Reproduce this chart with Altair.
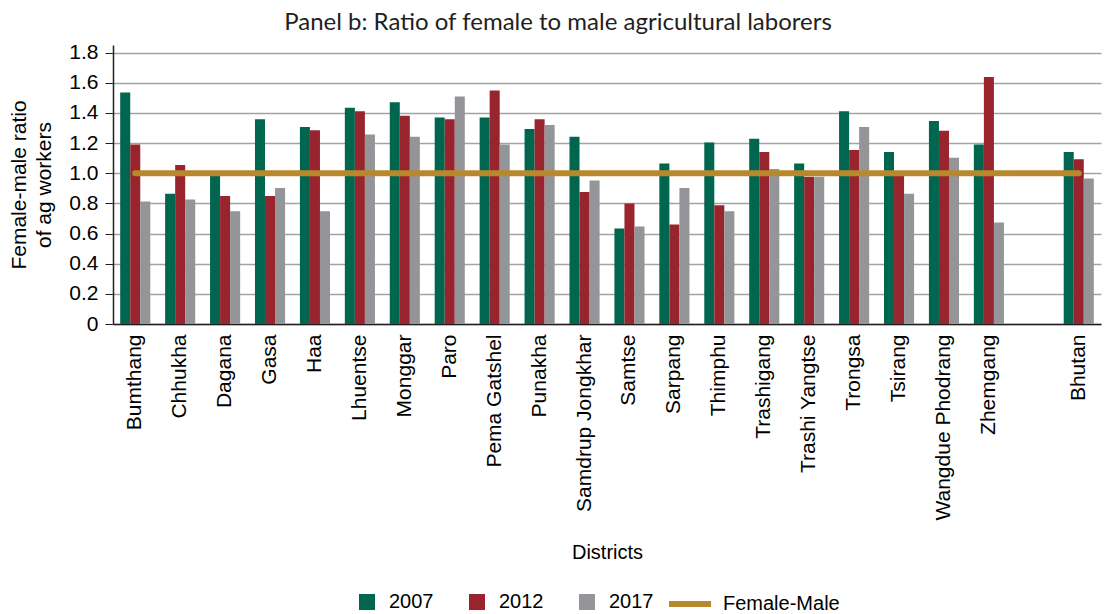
import altair as alt
import pandas as pd

districts = ["Bumthang", "Chhukha", "Dagana", "Gasa", "Haa", "Lhuentse", "Monggar", "Paro",
             "Pema Gatshel", "Punakha", "Samdrup Jongkhar", "Samtse", "Sarpang", "Thimphu",
             "Trashigang", "Trashi Yangtse", "Trongsa", "Tsirang", "Wangdue Phodrang",
             "Zhemgang", "Bhutan"]
gap_label = " "
axis_order = districts[:-1] + [gap_label] + ["Bhutan"]
years = ["2007", "2012", "2017"]
v2007 = [1.535, 0.863, 1.0, 1.357, 1.306, 1.434, 1.471, 1.37, 1.37, 1.293, 1.242, 0.633,
         1.065, 1.204, 1.229, 1.065, 1.41, 1.141, 1.346, 1.191, 1.141]
v2012 = [1.191, 1.054, 0.849, 0.849, 1.284, 1.41, 1.381, 1.357, 1.549, 1.357, 0.876, 0.799,
         0.66, 0.788, 1.141, 0.977, 1.154, 0.99, 1.282, 1.637, 1.092]
v2017 = [0.812, 0.825, 0.748, 0.902, 0.748, 1.257, 1.242, 1.509, 1.191, 1.319, 0.951, 0.646,
         0.902, 0.748, 1.028, 0.977, 1.306, 0.863, 1.103, 0.673, 0.964]
parity_label = "Female-Male"
parity_value = 1.0
y_ticks = [0, 0.2, 0.4, 0.6, 0.8, 1.0, 1.2, 1.4, 1.6, 1.8]

bar_colors = ["#00664F", "#98252E", "#939598"]
line_color = "#B8892C"

rows = []
for yr, vals in zip(years, [v2007, v2012, v2017]):
    for d, v in zip(districts, vals):
        rows.append({"District": d, "Year": yr, "Ratio": v})
df = pd.DataFrame(rows)
line_df = pd.DataFrame({"District": districts, "Ratio": [parity_value] * len(districts),
                        "Series": [parity_label] * len(districts)})

FONT = "Liberation Sans"

x_enc = alt.X("District:N",
              scale=alt.Scale(domain=axis_order, paddingInner=0.33, paddingOuter=0.16),
              axis=alt.Axis(title="Districts", labelAngle=-90, labelFontSize=21, labelPadding=10,
                            ticks=False, grid=False, domainColor="#231F20", domainWidth=1.5,
                            titleFontSize=20, titleFontWeight="normal", titleY=234,
                            titleBaseline="alphabetic", labelColor="#000000",
                            titleColor="#000000", labelOverlap=False, labelLimit=400))
y_enc = alt.Y("Ratio:Q",
              scale=alt.Scale(domain=[0, 1.85], nice=False, zero=True),
              axis=alt.Axis(values=y_ticks, title=["Female-male ratio", "of ag workers"],
                            labelExpr="datum.value == 0 ? '0' : format(datum.value, '.1f')",
                            labelFontSize=21, tickSize=8, labelPadding=7, tickColor="#231F20",
                            domainColor="#231F20", domainWidth=1.5, grid=True,
                            gridColor="#A3A3A3", gridWidth=1.5, titleFontSize=21,
                            titleFontWeight="normal", titlePadding=14, titleLineHeight=25,
                            labelColor="#000000", titleColor="#000000", labelOverlap=False))

bars = alt.Chart(df).mark_bar().encode(
    x=x_enc,
    xOffset=alt.XOffset("Year:N", scale=alt.Scale(domain=years, paddingInner=0, paddingOuter=0)),
    y=y_enc,
    color=alt.Color("Year:N", scale=alt.Scale(domain=years, range=bar_colors),
                    legend=alt.Legend(title=None, orient="none", legendX=244, legendY=547,
                                      direction="horizontal", symbolType="square",
                                      symbolSize=256, symbolStrokeWidth=0, labelFontSize=20,
                                      labelOffset=12, columnPadding=33, padding=0,
                                      labelColor="#000000")),
)

line = alt.Chart(line_df).mark_line(strokeWidth=6, strokeCap="round").encode(
    x=x_enc,
    y=y_enc,
    color=alt.Color("Series:N", scale=alt.Scale(domain=[parity_label], range=[line_color]),
                    legend=alt.Legend(title=None, orient="none", legendX=553, legendY=535,
                                      symbolType="stroke", symbolSize=1764,
                                      symbolStrokeWidth=6, labelFontSize=20, labelOffset=9,
                                      padding=0, labelColor="#000000")),
)

chart = alt.layer(bars, line).resolve_scale(color="independent").resolve_legend(
    color="independent"
).properties(
    width=988, height=279,
    autosize=alt.AutoSizeParams(type="none"),
    padding={"left": 105, "top": 37, "right": 6, "bottom": 290},
    title=alt.Title("Panel b: Ratio of female to male agricultural laborers",
                    font="Lato", fontSize=24, fontWeight="normal", color="#231F20",
                    anchor="middle", baseline="alphabetic", offset=16, dx=-49, dy=28),
).configure(font=FONT).configure_view(stroke=None).configure_axis(
    labelFont=FONT, titleFont=FONT
).configure_legend(labelFont=FONT)

chart.save("out.html", embed_options={"renderer": "svg", "actions": False})
